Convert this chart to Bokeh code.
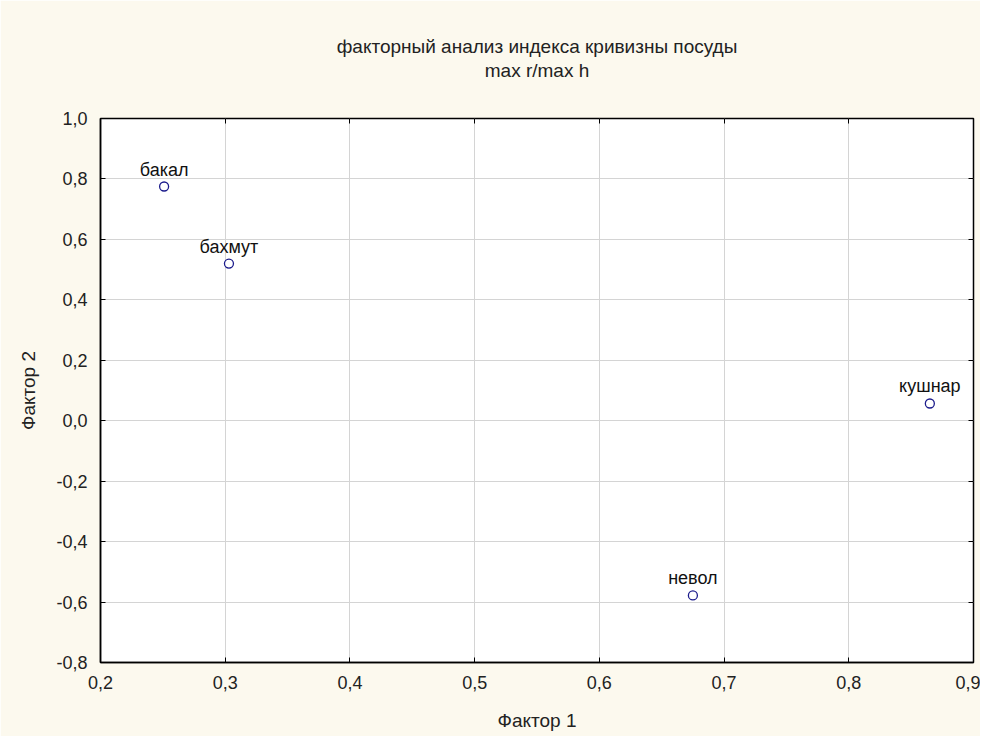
from bokeh.plotting import figure
from bokeh.models import LinearAxis, FixedTicker, Title, ColumnDataSource, LabelSet, CustomJSTickFormatter
from bokeh.core.properties import value
from bokeh.embed import file_html
from bokeh.resources import INLINE

names = ["бакал", "бахмут", "кушнар", "невол"]
factor1 = [0.251, 0.303, 0.865, 0.675]
factor2 = [0.775, 0.52, 0.057, -0.578]

x_ticks = [0.2, 0.3, 0.4, 0.5, 0.6, 0.7, 0.8, 0.9]
x_tick_labels = ["0,2", "0,3", "0,4", "0,5", "0,6", "0,7", "0,8", "0,9"]
y_ticks = [-0.8, -0.6, -0.4, -0.2, 0.0, 0.2, 0.4, 0.6, 0.8, 1.0]
y_tick_labels = ["-0,8", "-0,6", "-0,4", "-0,2", "0,0", "0,2", "0,4", "0,6", "0,8", "1,0"]

title_line1 = "факторный анализ индекса кривизны посуды"
title_line2 = "max r/max h"

FONT = "Liberation Sans"
BG = "#fcf9ee"
TXT = "#222222"

p = figure(width=980, height=736, x_range=(0.2, 0.9), y_range=(-0.8, 1.0),
           output_backend="svg", toolbar_location=None,
           x_axis_label="Фактор 1", y_axis_label="Фактор 2",
           min_border_left=100, min_border_right=7, min_border_top=118, min_border_bottom=74)
p.title = None
p.background_fill_color = "white"
p.border_fill_color = BG
p.outline_line_color = "black"
p.outline_line_width = 1.5

xt = FixedTicker(ticks=x_ticks)
yt = FixedTicker(ticks=y_ticks)
xo = {v: s for v, s in zip(x_ticks, x_tick_labels)}
yo = {v: s for v, s in zip(y_ticks, y_tick_labels)}

for ax in p.xaxis:
    ax.ticker = xt
    ax.major_label_overrides = xo
for ax in p.yaxis:
    ax.ticker = yt
    ax.major_label_overrides = yo

for ax in list(p.xaxis) + list(p.yaxis):
    ax.major_tick_in = 5
    ax.major_tick_out = 0
    ax.minor_tick_line_color = None
    ax.axis_line_color = "black"
    ax.axis_line_width = 1.5
    ax.major_tick_line_color = "black"
    ax.major_label_text_font = FONT
    ax.major_label_text_font_size = "18px"
    ax.major_label_text_color = TXT
    ax.axis_label_text_font = FONT
    ax.axis_label_text_font_size = "19px"
    ax.axis_label_text_font_style = "normal"
    ax.axis_label_text_color = TXT
    ax.major_label_standoff = 13

p.xaxis.axis_label_standoff = 18
p.yaxis.axis_label_standoff = 14

blank = CustomJSTickFormatter(code="return ''")
# top axis carries the inner ticks and the second title line
top = LinearAxis(ticker=xt, formatter=blank, major_tick_in=5, major_tick_out=0,
                 minor_tick_line_color=None, axis_line_color=None, major_label_standoff=0,
                 axis_label=title_line2, axis_label_standoff=38,
                 axis_label_text_font=FONT, axis_label_text_font_size="19px",
                 axis_label_text_font_style="normal", axis_label_text_color=TXT)
right = LinearAxis(ticker=yt, formatter=blank, major_tick_in=5, major_tick_out=0,
                   minor_tick_line_color=None, axis_line_color=None, major_label_standoff=0)
p.add_layout(top, "above")
p.add_layout(right, "right")

t1 = Title(text=title_line1, align="center", text_font=FONT, text_font_size="19px",
           text_font_style="normal", text_color=TXT, standoff=0)
p.add_layout(t1, "above")

p.grid.grid_line_color = "#d4d4d4"
p.grid.grid_line_width = 1
p.xgrid.ticker = xt
p.ygrid.ticker = yt

src = ColumnDataSource(dict(x=factor1, y=factor2, name=names))
p.scatter("x", "y", source=src, size=9, marker="circle", fill_color="white",
          line_color="#1c1c8c", line_width=1.3)
labels = LabelSet(x="x", y="y", text="name", source=src, y_offset=7, text_align="center",
                  text_baseline="bottom", text_font=value(FONT), text_font_size=value("18px"),
                  text_color="#111111")
p.add_layout(labels)

open("out.html", "w").write(file_html(p, INLINE))
